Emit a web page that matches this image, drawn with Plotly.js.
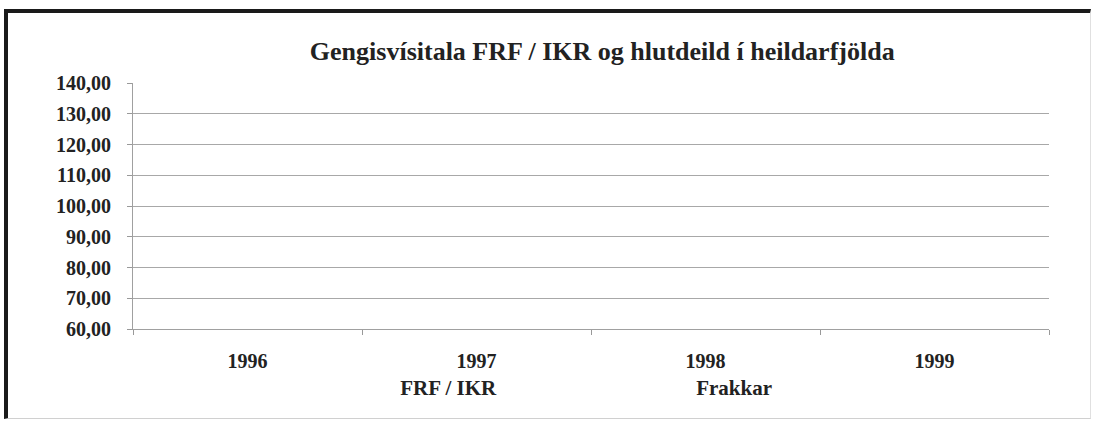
<!DOCTYPE html>
<html>
<head>
<meta charset="utf-8">
<script src="https://cdn.plot.ly/plotly-3.0.1.min.js"></script>
<style>
  html, body { margin: 0; padding: 0; background: #fff; }
  #wrap { position: relative; width: 1097px; height: 426px; }
  #chart { position: absolute; left: 0; top: 0; width: 1097px; height: 426px; }
  #frame { position: absolute; left: 4px; top: 9px; width: 1082px; height: 405px;
           border-left: 4px solid #1a1a1a; border-top: 4px solid #1a1a1a;
           border-right: 1px solid #e0e0e0; border-bottom: 1px solid #d0d0d0;
           pointer-events: none; }
</style>
</head>
<body>
<div id="wrap">
  <div id="chart"></div>
  <div id="frame"></div>
</div>
<script>
// Categories (years) on the x axis
const years = ['1996', '1997', '1998', '1999'];
// Series names (legend)
const seriesNames = ['FRF / IKR', 'Frakkar'];
// Series values: the data lines are not visible in the reference image, so no values can be read
const frfIkr = [null, null, null, null];
const frakkar = [null, null, null, null];
// Y axis tick values and labels
const yTickVals = [60, 70, 80, 90, 100, 110, 120, 130, 140];
const yTickText = ['60,00', '70,00', '80,00', '90,00', '100,00', '110,00', '120,00', '130,00', '140,00'];
const titleText = 'Gengisvísitala FRF / IKR og hlutdeild í heildarfjölda';

const serif = '"Liberation Serif", "Times New Roman", serif';

const traces = [
  { x: years, y: frfIkr, name: seriesNames[0], type: 'scatter', mode: 'lines',
    line: { color: 'rgba(255,255,255,0)', width: 2 } },
  { x: years, y: frakkar, name: seriesNames[1], type: 'scatter', mode: 'lines',
    line: { color: 'rgba(255,255,255,0)', width: 2 } }
];

const layout = {
  width: 1097, height: 426,
  margin: { l: 133, r: 48, t: 83, b: 97 },
  paper_bgcolor: 'rgba(0,0,0,0)',
  plot_bgcolor: 'rgba(0,0,0,0)',
  title: { text: titleText, font: { family: serif, size: 26, color: '#222', weight: 'bold' },
           x: 0.549, xanchor: 'center', y: 0.88, yanchor: 'middle' },
  font: { family: serif, color: '#222' },
  showlegend: true,
  legend: { orientation: 'h', x: 0.248, xanchor: 'left', y: -0.235, yanchor: 'middle',
            entrywidth: 251, entrywidthmode: 'pixels', itemwidth: 30,
            font: { family: serif, size: 21, color: '#222', weight: 'bold' },
            bgcolor: 'rgba(0,0,0,0)' },
  xaxis: {
    type: 'category', categoryorder: 'array', categoryarray: years,
    range: [-0.5, 3.5], tickson: 'boundaries', ticks: 'outside', ticklen: 5,
    tickcolor: '#999', showgrid: false, zeroline: false,
    showline: true, linecolor: '#a0a0a0', linewidth: 1,
    tickfont: { family: serif, size: 20, color: '#222', weight: 'bold' },
    ticklabelstandoff: 14, fixedrange: true
  },
  yaxis: {
    range: [60, 140], tickvals: yTickVals, ticktext: yTickText,
    ticks: 'outside', ticklen: 5, tickcolor: '#999',
    showgrid: true, gridcolor: '#a8a8a8', gridwidth: 1, zeroline: false,
    showline: true, linecolor: '#a0a0a0', linewidth: 1,
    tickfont: { family: serif, size: 20, color: '#222', weight: 'bold' },
    ticklabelstandoff: 12, fixedrange: true
  }
};

Plotly.newPlot('chart', traces, layout, { staticPlot: true, displayModeBar: false });
</script>
</body>
</html>
